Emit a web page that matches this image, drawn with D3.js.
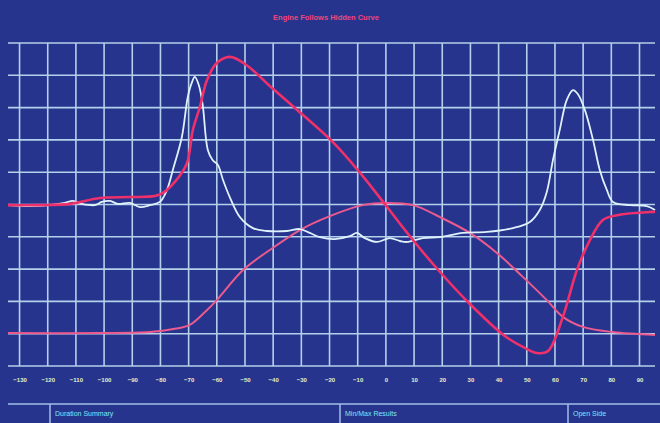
<!DOCTYPE html>
<html>
<head>
<meta charset="utf-8">
<script src="https://cdn.jsdelivr.net/npm/d3@7"></script>
<style>
  html, body { margin: 0; padding: 0; background: #26348d; }
  svg { display: block; }
</style>
</head>
<body>
<svg id="chart" width="660" height="423"></svg>
<script>
// tick labels along the bottom of the scope
var xTicks = [-130, -120, -110, -100, -90, -80, -70, -60, -50, -40, -30, -20, -10, 0, 10, 20, 30, 40, 50, 60, 70, 80, 90]
var yTicks = [0, 10, 20, 30, 40, 50, 60, 70, 80, 90, 100]

// big red trace (rise, long slope down, dip, recover)
var redA = [
  [-134.1, 49.8], [-122.8, 49.8], [-112.1, 50.2], [-101.5, 52.0], [-90.8, 52.3], [-82.0, 52.6],
  [-79.1, 53.6], [-74.9, 57.0], [-70.6, 62.8], [-68.5, 73.1], [-66.0, 80.2], [-63.5, 88.5],
  [-60.0, 93.8], [-55.4, 95.7], [-50.0, 93.5], [-41.2, 86.7], [-32.3, 79.9], [-18.8, 69.3],
  [-8.5, 59.1], [0.7, 48.9], [9.6, 39.0], [19.2, 29.1], [29.8, 19.2], [42.2, 9.3],
  [49.3, 5.6], [53.6, 4.0], [57.5, 4.6], [62.8, 15.2], [67.8, 29.7], [72.4, 39.0],
  [77.0, 45.2], [82.0, 46.7], [93.7, 47.7], [95.5, 47.7]
]

// red hump trace
var redB = [
  [-134.1, 10.2], [-101.5, 10.2], [-83.7, 10.5], [-74.9, 11.5], [-69.6, 12.7], [-64.2, 16.7],
  [-60.0, 20.4], [-50.7, 29.7], [-41.2, 35.9], [-30.5, 42.1], [-19.9, 46.4], [-8.2, 49.8],
  [0.4, 50.5], [9.6, 49.8], [19.2, 46.1], [29.8, 41.2], [39.4, 35.0], [48.6, 27.6],
  [57.1, 20.4], [62.8, 15.2], [69.9, 12.1], [80.6, 10.5], [95.5, 9.6]
]

// white trace with the two sharp peaks
var white = [
  [-134.1, 49.8], [-126.3, 49.5], [-119.2, 49.8], [-113.9, 50.5], [-111.1, 51.1], [-107.9, 50.2],
  [-103.3, 49.8], [-100.8, 50.8], [-97.9, 51.1], [-95.1, 50.2], [-90.8, 50.5], [-87.3, 49.2],
  [-83.7, 49.8], [-80.2, 50.8], [-77.7, 54.5], [-75.6, 60.7], [-72.4, 70.9], [-70.3, 83.3],
  [-68.8, 87.9], [-67.8, 89.5], [-66.4, 87.0], [-65.0, 80.8], [-63.2, 66.9], [-61.5, 63.8],
  [-59.6, 62.2], [-57.8, 57.6], [-55.4, 52.3], [-51.8, 46.1], [-47.2, 42.7], [-42.2, 41.8],
  [-35.1, 41.8], [-30.5, 42.4], [-27.0, 41.2], [-23.4, 39.9], [-18.1, 39.3], [-12.8, 40.2],
  [-10.3, 41.2], [-7.5, 39.6], [-3.2, 38.4], [1.4, 39.6], [5.0, 38.7], [7.5, 38.4],
  [13.1, 39.6], [19.2, 39.9], [27.3, 41.2], [35.8, 41.5], [45.1, 42.7], [51.1, 44.6],
  [54.6, 48.3], [57.1, 53.9], [59.3, 63.8], [61.7, 73.1], [64.2, 82.4], [66.4, 85.4],
  [68.1, 84.2], [70.6, 79.3], [73.5, 70.0], [75.9, 60.7], [78.4, 54.5], [80.6, 50.8],
  [86.6, 49.8], [92.6, 49.5], [95.5, 48.3]
]

var title = 'Engine Follows Hidden Curve'
var panels = ['Duration Summary', 'Min/Max Results', 'Open Side']

var svg = d3.select('#chart')
// plot box (note: "top" is taken by window.top, so prefix these)
var pLeft = 8, pRight = 655, pTop = 43, pBottom = 366

var x = d3.scaleLinear().domain([-134.1, 95.5]).range([pLeft, pRight])
var y = d3.scaleLinear().domain([0, 100]).range([pBottom, pTop])

var glow = '#c4e2f6'

// title
svg.append('text')
  .attr('x', 326).attr('y', 20)
  .attr('text-anchor', 'middle')
  .attr('font-family', 'Liberation Sans, Arial, sans-serif')
  .attr('font-size', 7.5)
  .attr('font-weight', 'bold')
  .attr('fill', '#f0467a')
  .text(title)

// grid
var grid = svg.append('g').attr('stroke', glow).attr('stroke-width', 1.6).attr('opacity', 0.9)
grid.selectAll('line.h')
  .data(yTicks)
  .enter().append('line')
  .attr('class', 'h')
  .attr('x1', pLeft).attr('x2', pRight)
  .attr('y1', function (d) { return y(d) })
  .attr('y2', function (d) { return y(d) })
grid.selectAll('line.v')
  .data(xTicks)
  .enter().append('line')
  .attr('class', 'v')
  .attr('y1', pTop).attr('y2', pBottom)
  .attr('x1', function (d) { return x(d) })
  .attr('x2', function (d) { return x(d) })

// x axis labels
var axis = svg.append('g')
  .attr('transform', 'translate(0,' + (pBottom + 12) + ')')
  .call(d3.axisBottom(x).tickValues(xTicks).tickSize(0).tickPadding(0))
axis.select('.domain').remove()
axis.selectAll('text')
  .attr('fill', '#e8f0c8')
  .attr('font-family', 'Liberation Sans, Arial, sans-serif')
  .attr('font-size', 6)
  .attr('font-weight', 'bold')

// traces
var line = d3.line()
  .x(function (d) { return x(d[0]) })
  .y(function (d) { return y(d[1]) })
  .curve(d3.curveCatmullRom.alpha(0.5))

svg.append('path').datum(redB)
  .attr('d', line).attr('fill', 'none')
  .attr('stroke', '#ec5a8e').attr('stroke-width', 2)
svg.append('path').datum(white)
  .attr('d', line).attr('fill', 'none')
  .attr('stroke', '#dff2fb').attr('stroke-width', 1.8)
svg.append('path').datum(redA)
  .attr('d', line).attr('fill', 'none')
  .attr('stroke', '#f0306a').attr('stroke-width', 2.6)

// status bar at the bottom
svg.append('line')
  .attr('x1', pLeft).attr('x2', 660)
  .attr('y1', 404).attr('y2', 404)
  .attr('stroke', '#9fbfe8').attr('stroke-width', 1.5)

var panelX = [50, 340, 568]
svg.selectAll('line.sep')
  .data(panelX)
  .enter().append('line')
  .attr('class', 'sep')
  .attr('x1', function (d) { return d }).attr('x2', function (d) { return d })
  .attr('y1', 404).attr('y2', 423)
  .attr('stroke', '#9fbfe8').attr('stroke-width', 1.5)

svg.selectAll('text.panel')
  .data(panels)
  .enter().append('text')
  .attr('class', 'panel')
  .attr('x', function (d, i) { return panelX[i] + 5 })
  .attr('y', 416)
  .attr('font-family', 'Liberation Sans, Arial, sans-serif')
  .attr('font-size', 7)
  .attr('fill', '#7fe6f4')
  .text(function (d) { return d })
</script>
</body>
</html>
